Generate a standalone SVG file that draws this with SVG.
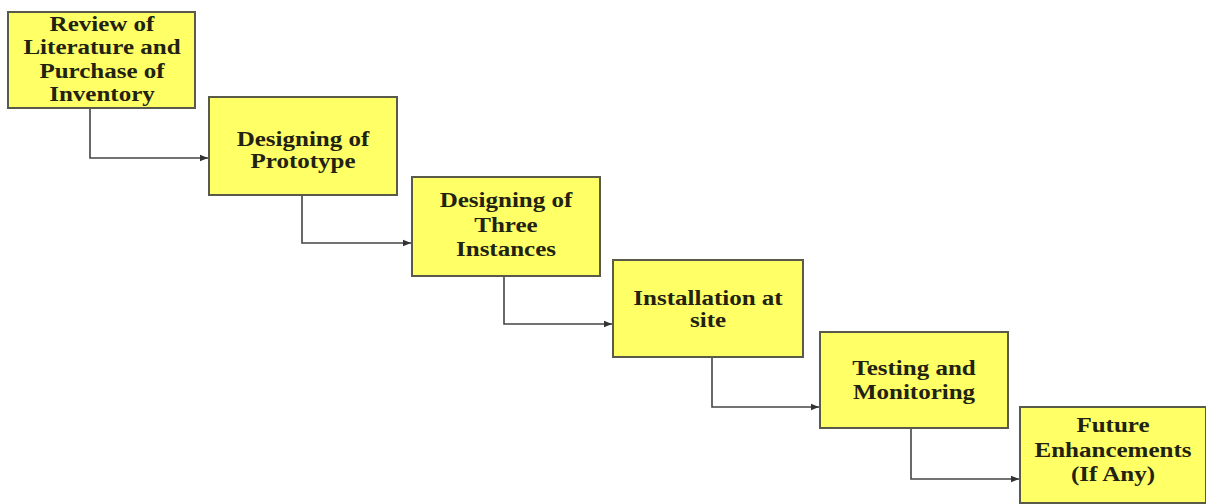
<svg xmlns="http://www.w3.org/2000/svg" width="1206" height="504" viewBox="0 0 1206 504">
<style>
.box{fill:#FFFF66;stroke:#5a5a4a;stroke-width:2}
.t{font-family:"Liberation Serif","Times New Roman",serif;font-weight:bold;font-size:20px;fill:#222211;text-anchor:middle}
.c{fill:none;stroke:#444;stroke-width:1.6}
</style>
<defs>
<marker id="ah" viewBox="0 0 10 10" refX="10" refY="5" markerWidth="8" markerHeight="8" markerUnits="userSpaceOnUse" orient="auto">
<path d="M0,1 L10,5 L0,9 Z" fill="#333"/>
</marker>
</defs>
<rect width="1206" height="504" fill="#fff"/>
<g id="connectors">
<path class="c" d="M90,108 V158 H208" marker-end="url(#ah)"/>
<path class="c" d="M302,195 V243 H411" marker-end="url(#ah)"/>
<path class="c" d="M504,276 V324 H612" marker-end="url(#ah)"/>
<path class="c" d="M712,357 V407 H819" marker-end="url(#ah)"/>
<path class="c" d="M911,428 V479 H1019" marker-end="url(#ah)"/>
</g>
<g id="n1">
<rect class="box" x="8" y="12" width="187" height="96"/>
<g transform="translate(102,0) scale(1.25,1)">
<text class="t" x="0" y="31">Review of</text>
<text class="t" x="0" y="54">Literature and</text>
<text class="t" x="0" y="78">Purchase of</text>
<text class="t" x="0" y="101">Inventory</text>
</g>
</g>
<g id="n2">
<rect class="box" x="209" y="97" width="188" height="98"/>
<g transform="translate(303,0) scale(1.25,1)">
<text class="t" x="0" y="146">Designing of</text>
<text class="t" x="0" y="168">Prototype</text>
</g>
</g>
<g id="n3">
<rect class="box" x="412" y="177" width="188" height="99"/>
<g transform="translate(506,0) scale(1.25,1)">
<text class="t" x="0" y="207">Designing of</text>
<text class="t" x="0" y="232">Three</text>
<text class="t" x="0" y="256">Instances</text>
</g>
</g>
<g id="n4">
<rect class="box" x="613" y="260" width="190" height="97"/>
<g transform="translate(708,0) scale(1.25,1)">
<text class="t" x="0" y="305">Installation at</text>
<text class="t" x="0" y="327">site</text>
</g>
</g>
<g id="n5">
<rect class="box" x="820" y="332" width="188" height="96"/>
<g transform="translate(914,0) scale(1.25,1)">
<text class="t" x="0" y="375">Testing and</text>
<text class="t" x="0" y="399">Monitoring</text>
</g>
</g>
<g id="n6">
<rect class="box" x="1020" y="407" width="186" height="96"/>
<g transform="translate(1113,0) scale(1.25,1)">
<text class="t" x="0" y="432">Future</text>
<text class="t" x="0" y="457">Enhancements</text>
<text class="t" x="0" y="481">(If Any)</text>
</g>
</g>
</svg>
